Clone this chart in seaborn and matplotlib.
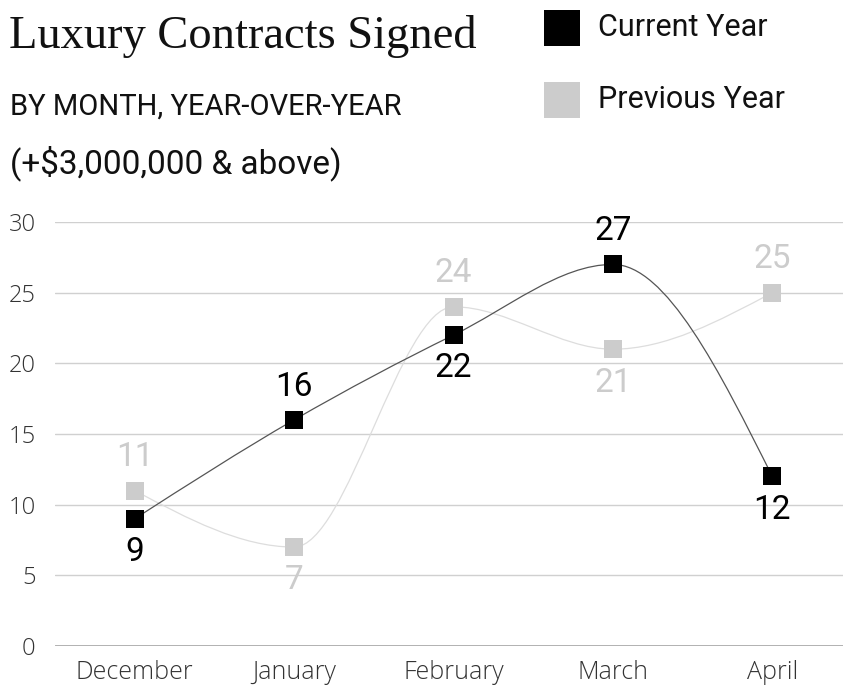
import numpy as np
import pandas as pd
import matplotlib
matplotlib.use('Agg')
import matplotlib.pyplot as plt
from matplotlib.path import Path
from matplotlib.patches import PathPatch, Rectangle
import seaborn as sns

months = ['December', 'January', 'February', 'March', 'April']
current_year = [9, 16, 22, 27, 12]
previous_year = [11, 7, 24, 21, 25]
series_names = ['Current Year', 'Previous Year']
# label above (+1) or below (-1) the point
current_label_side = [-1, 1, -1, 1, -1]
previous_label_side = [1, -1, 1, -1, 1]

W, H = 843, 685
sns.set_theme(style='white')
plt.rcParams['font.family'] = ['Roboto', 'DejaVu Sans']


def fx(px):
    return px / W


def fy(py):
    return 1 - py / H


def monotone_path(xs, ys):
    # d3 curveMonotoneX as cubic bezier segments
    xs = np.asarray(xs, float)
    ys = np.asarray(ys, float)
    n = len(xs)
    h = np.diff(xs)
    s = np.diff(ys) / h
    t = np.zeros(n)
    for i in range(1, n - 1):
        p = (s[i - 1] * h[i] + s[i] * h[i - 1]) / (h[i - 1] + h[i])
        t[i] = (np.sign(s[i - 1]) + np.sign(s[i])) * min(abs(s[i - 1]), abs(s[i]), 0.5 * abs(p))
    t[0] = (3 * s[0] - t[1]) / 2
    t[-1] = (3 * s[-1] - t[-2]) / 2
    verts = [(xs[0], ys[0])]
    codes = [Path.MOVETO]
    for i in range(n - 1):
        d = h[i] / 3
        verts += [(xs[i] + d, ys[i] + d * t[i]),
                  (xs[i + 1] - d, ys[i + 1] - d * t[i + 1]),
                  (xs[i + 1], ys[i + 1])]
        codes += [Path.CURVE4] * 3
    return Path(verts, codes)


df = pd.DataFrame({
    'month': pd.Categorical(months * 2, categories=months, ordered=True),
    'value': current_year + previous_year,
    'series': [series_names[0]] * len(months) + [series_names[1]] * len(months),
})
colors = {'Current Year': '#000000', 'Previous Year': '#cccccc'}
line_colors = {'Current Year': '#555555', 'Previous Year': '#dddddd'}

fig = plt.figure(figsize=(W / 100, H / 100), dpi=100)
ax = fig.add_axes([fx(55), fy(646), fx(852) - fx(55), fy(222) - fy(646)])

# grid
for v in range(5, 31, 5):
    ax.axhline(v, color='#d0d0d0', lw=1.0, zorder=0)
ax.axhline(0, color='#aaaaaa', lw=2.0, zorder=0)

pos = np.arange(len(months))
for name, vals in [('Previous Year', previous_year), ('Current Year', current_year)]:
    ax.add_patch(PathPatch(monotone_path(pos, vals), fill=False,
                           edgecolor=line_colors[name], lw=0.9, zorder=1))

for name in ['Previous Year', 'Current Year']:
    sns.scatterplot(data=df[df['series'] == name], x='month', y='value', color=colors[name],
                    marker='s', s=165, linewidth=0, legend=False, zorder=3, ax=ax)

for vals, sides, c in [(current_year, current_label_side, '#000000'),
                       (previous_year, previous_label_side, '#cccccc')]:
    for i, (v, sd) in enumerate(zip(vals, sides)):
        ax.annotate(str(v), (i, v), xytext=(0, 24 * sd), textcoords='offset points',
                    ha='center', va='center', fontsize=24, color=c, zorder=4)

ax.set_xlim(-0.5, len(months) - 0.5)
ax.set_ylim(0, 30)
ax.set_yticks(range(0, 31, 5))
ax.set_xlabel('')
ax.set_ylabel('')
sns.despine(ax=ax, left=True, bottom=True)
ax.tick_params(axis='both', length=0, labelsize=17, labelcolor='#333333')
ax.tick_params(axis='x', labelsize=18, pad=10)
ax.tick_params(axis='y', pad=14)
for lbl in ax.get_xticklabels() + ax.get_yticklabels():
    lbl.set_family(['Open Sans', 'DejaVu Sans'])
    lbl.set_fontweight('light')

# titles
fig.text(fx(9), fy(48), 'Luxury Contracts Signed', family=['Liberation Serif', 'DejaVu Serif'],
         fontsize=33.5, color='#111111', va='baseline')
fig.text(fx(10), fy(115), 'BY MONTH, YEAR-OVER-YEAR', fontsize=21, color='#111111', va='baseline')
fig.text(fx(10), fy(173), '(+$3,000,000 & above)', fontsize=24, color='#111111', va='baseline')

# legend
for (name, ytop, ybase) in [('Current Year', 10, 36), ('Previous Year', 82, 108)]:
    fig.patches.append(Rectangle((fx(544), fy(ytop + 36)), fx(36), 36 / H,
                                 transform=fig.transFigure, facecolor=colors[name],
                                 edgecolor='none'))
    fig.text(fx(598), fy(ybase), name, fontsize=22, color='#111111', va='baseline')

fig.savefig('out.png', dpi=100)
